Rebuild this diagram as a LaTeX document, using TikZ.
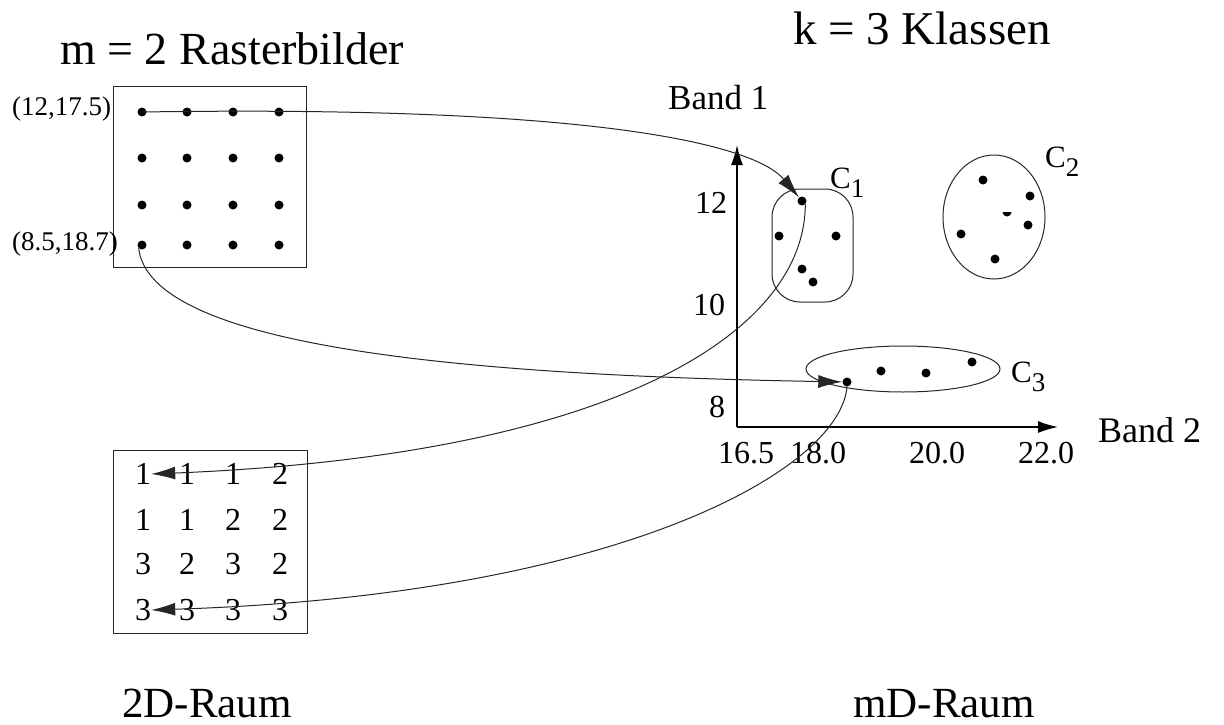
\documentclass[tikz,border=0pt]{standalone}
\usepackage{fontspec}
\setmainfont{Liberation Serif}
\usetikzlibrary{arrows.meta,shapes.geometric}
\newcommand{\fs}[1]{\fontsize{#1}{#1}\selectfont}
\newcommand{\csub}[1]{C\raisebox{-9pt}{\fs{27}#1}}
\tikzset{
  dot/.style={circle, fill=black, inner sep=0pt, minimum size=9pt},
  txt/.style={inner sep=0pt, anchor=base},
  txtw/.style={inner sep=0pt, anchor=base west},
  digit/.style={inner sep=0pt, font=\fs{32}},
  frame/.style={draw=black!85, line width=1.2pt, inner sep=0pt},
  cluster/.style={draw=black!85, line width=1pt, inner sep=0pt},
  link/.style={draw=black!85, line width=1pt, -{Latex[length=24pt,width=13pt]}},
  axis/.style={draw=black, line width=1.5pt, -{Latex[length=20pt,width=12pt]}}
}
\begin{document}
\begin{tikzpicture}[x=1pt,y=-1pt]
\useasboundingbox (0,0) rectangle (1224,725);
% titles
\node[txtw, font=\fs{46}] (t1) at (60,65) {m = 2 Rasterbilder};
\node[txtw, font=\fs{47}] (t2) at (793,45) {k = 3 Klassen};
\node[txtw, font=\fs{43}] (t3) at (122,717) {2D-Raum};
\node[txtw, font=\fs{43}] (t4) at (853,717) {mD-Raum};
% raster box
\node[frame, anchor=north west, minimum width=193pt, minimum height=181pt] (boxA) at (113,86) {};
\foreach \r/\y in {1/112,2/158,3/205,4/245}{
  \foreach \c/\x in {1/142,2/187,3/233,4/279}{
    \node[dot] (d\r\c) at (\x,\y) {};
  }
}
\node[txtw, font=\fs{27}] (p1) at (12,115) {(12,17.5)};
\node[txtw, font=\fs{27}] (p2) at (12,250) {(8.5,18.7)};
% class box
\node[frame, anchor=north west, minimum width=194pt, minimum height=183pt] (boxB) at (113,450) {};
\foreach \r/\y/\la/\lb/\lc/\ld in {1/474/1/1/1/2,2/520/1/1/2/2,3/564/3/2/3/2,4/610/3/3/3/3}{
  \node[digit] (n\r1) at (143,\y) {\la};
  \node[digit] (n\r2) at (187,\y) {\lb};
  \node[digit] (n\r3) at (233,\y) {\lc};
  \node[digit] (n\r4) at (280,\y) {\ld};
}
% axes
\coordinate (O) at (737,427);
\coordinate (Ytop) at (737,145);
\coordinate (Xend) at (1058,427);
\draw[axis] (O) -- (Ytop);
\draw[axis] (O) -- (Xend);
\node[txtw, font=\fs{35}] (b1) at (668,110) {Band 1};
\node[txtw, font=\fs{36}] (b2) at (1098,442) {Band 2};
\node[txt, font=\fs{32}] (y12) at (711,213) {12};
\node[txt, font=\fs{32}] (y10) at (709,315) {10};
\node[txt, font=\fs{32}] (y8) at (717,417) {8};
\node[txt, font=\fs{32}] (x1) at (746,463) {16.5};
\node[txt, font=\fs{32}] (x2) at (818,463) {18.0};
\node[txt, font=\fs{32}] (x3) at (937,463) {20.0};
\node[txt, font=\fs{32}] (x4) at (1046,463) {22.0};
% clusters
\node[cluster, rectangle, rounded corners=28pt, minimum width=81pt, minimum height=113pt] (C1) at (812.5,245.5) {};
\node[cluster, ellipse, minimum width=102pt, minimum height=124pt] (C2) at (994,217) {};
\node[cluster, ellipse, minimum width=194pt, minimum height=46pt] (C3) at (903,369) {};
\node[txtw, font=\fs{31}] (l1) at (830,188) {\csub{1}};
\node[txtw, font=\fs{31}] (l2) at (1045,167) {\csub{2}};
\node[txtw, font=\fs{31}] (l3) at (1011,382) {\csub{3}};
% cluster points
\node[dot] (a1) at (802,201) {};
\node[dot] (a2) at (779,236) {};
\node[dot] (a3) at (836,236) {};
\node[dot] (a4) at (802,269) {};
\node[dot] (a5) at (813,282) {};
\node[dot] (b1d) at (983,180) {};
\node[dot] (b2d) at (1030,196) {};
\fill (1002.5,212) arc[start angle=180, end angle=360, radius=4.5pt] -- cycle;
\node[dot] (b4d) at (1028,225) {};
\node[dot] (b5d) at (961,234) {};
\node[dot] (b6d) at (995,259) {};
\node[dot] (c1) at (847,382) {};
\node[dot] (c2) at (881,371) {};
\node[dot] (c3) at (926,373) {};
\node[dot] (c4) at (972,362) {};
% connectors
\draw[link] (d11.center) .. controls (600,105) and (755,145) .. (a1);
\draw[link] (d41.south west) .. controls (150,345) and (450,375) .. (c1);
\draw[link] (a1.south east) .. controls (805,330) and (620,455) .. (n11.east);
\draw[link] (c1.south) .. controls (840,470) and (620,595) .. (n41.east);
\end{tikzpicture}
\end{document}
